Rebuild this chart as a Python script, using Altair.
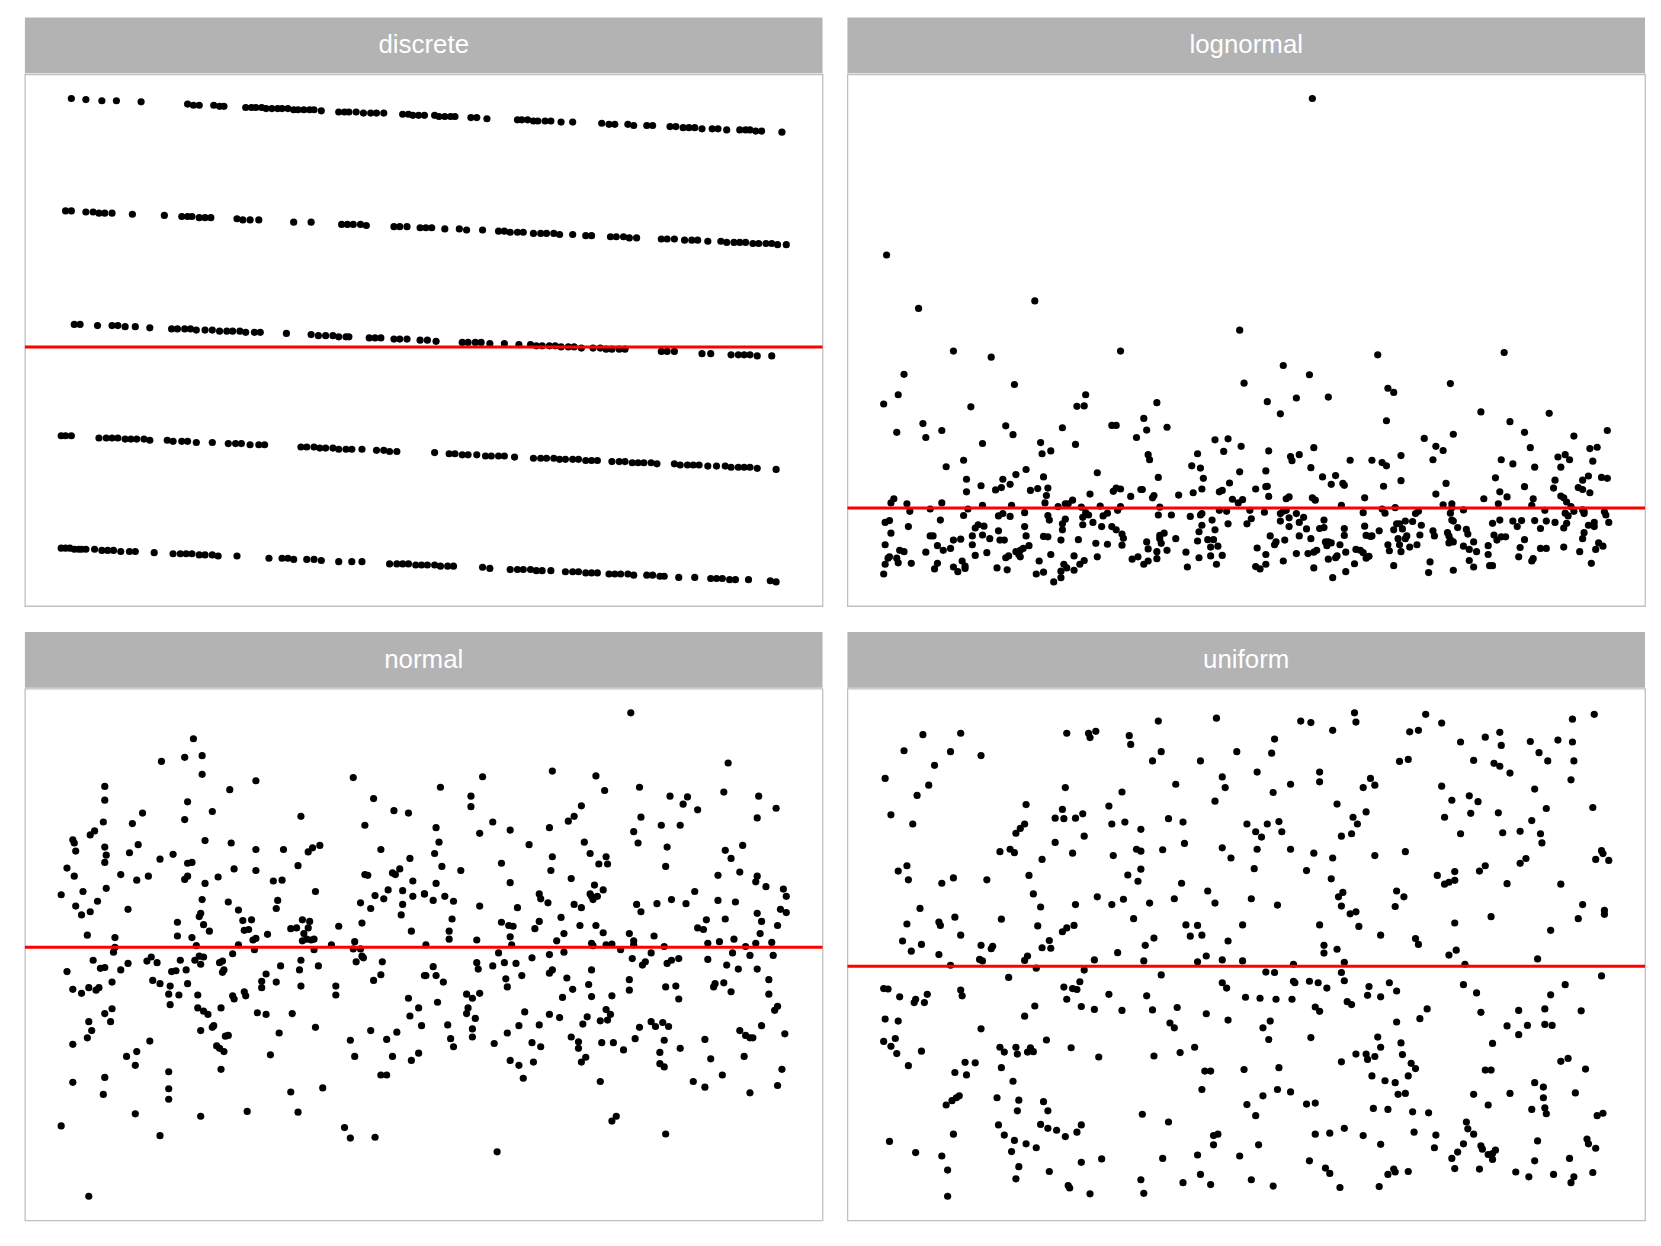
import altair as alt
import pandas as pd

PANEL_NAMES = ["discrete", "lognormal", "normal", "uniform"]
PANEL_MEANS = [2.79, 1.65, 0.0, 0.476]
X_RANGE = [1, 500]

discrete_level5 = [(8,5.00),(18,4.99),(29,4.98),(39,4.98),(56,4.97),(88,4.95),(92,4.94),(96,4.94),(106,4.94),(110,4.93),(113,4.93),(128,4.92),(132,4.92),(135,4.92),(139,4.92),(142,4.91),(146,4.91),(150,4.91),(153,4.91),(157,4.91),(161,4.90),(164,4.90),(168,4.90),(172,4.90),(175,4.90),(180,4.89),(192,4.88),(196,4.88),(199,4.88),(204,4.88),(209,4.87),(214,4.87),(218,4.87),(223,4.87),(236,4.86),(240,4.86),(243,4.85),(247,4.85),(251,4.85),(258,4.85),(261,4.84),(265,4.84),(269,4.84),(272,4.84),(283,4.83),(287,4.83),(294,4.82),(315,4.81),(318,4.81),(322,4.81),(326,4.80),(329,4.80),(334,4.80),(338,4.80),(345,4.79),(353,4.79),(373,4.78),(378,4.77),(382,4.77),(391,4.77),(395,4.76),(404,4.76),(408,4.76),(420,4.75),(424,4.75),(429,4.74),(433,4.74),(437,4.74),(442,4.73),(449,4.73),(453,4.73),(459,4.72),(468,4.72),(472,4.72),(475,4.72),(479,4.71),(483,4.71),(497,4.70)]

discrete_level4 = [(4,4.00),(8,4.00),(18,3.99),(23,3.99),(27,3.98),(31,3.98),(36,3.98),(50,3.97),(72,3.96),(84,3.95),(88,3.95),(91,3.95),(96,3.94),(100,3.94),(104,3.94),(122,3.93),(126,3.92),(131,3.92),(137,3.92),(161,3.90),(173,3.90),(194,3.88),(198,3.88),(202,3.88),(207,3.88),(211,3.87),(230,3.86),(234,3.86),(239,3.86),(248,3.85),(252,3.85),(256,3.85),(265,3.84),(275,3.84),(280,3.83),(291,3.83),(302,3.82),(306,3.82),(310,3.81),(315,3.81),(319,3.81),(326,3.80),(331,3.80),(335,3.80),(340,3.80),(344,3.79),(353,3.79),(362,3.78),(366,3.78),(379,3.77),(383,3.77),(388,3.77),(392,3.76),(397,3.76),(414,3.75),(418,3.75),(423,3.75),(430,3.74),(435,3.74),(439,3.74),(446,3.73),(455,3.73),(459,3.72),(464,3.72),(468,3.72),(472,3.72),(477,3.71),(481,3.71),(486,3.71),(490,3.71),(494,3.70),(500,3.70)]

discrete_level3 = [(10,2.99),(14,2.99),(26,2.98),(36,2.98),(40,2.98),(45,2.97),(52,2.97),(62,2.96),(77,2.95),(81,2.95),(86,2.95),(90,2.95),(94,2.94),(100,2.94),(105,2.94),(110,2.93),(115,2.93),(119,2.93),(124,2.93),(128,2.92),(134,2.92),(138,2.92),(156,2.91),(173,2.90),(178,2.89),(183,2.89),(188,2.89),(192,2.88),(197,2.88),(199,2.88),(213,2.87),(217,2.87),(221,2.87),(230,2.86),(234,2.86),(239,2.86),(248,2.85),(253,2.85),(259,2.84),(277,2.83),(281,2.83),(286,2.83),(290,2.83),(296,2.82),(306,2.82),(316,2.81),(324,2.81),(328,2.80),(332,2.80),(337,2.80),(341,2.80),(345,2.79),(350,2.79),(354,2.79),(359,2.78),(367,2.78),(372,2.78),(376,2.77),(380,2.77),(385,2.77),(389,2.77),(414,2.75),(418,2.75),(423,2.75),(442,2.73),(448,2.73),(462,2.72),(467,2.72),(471,2.72),(475,2.72),(480,2.71),(490,2.71)]

discrete_level2 = [(1,2.00),(4,2.00),(8,2.00),(27,1.98),(32,1.98),(36,1.98),(40,1.98),(45,1.97),(49,1.97),(53,1.97),(58,1.97),(62,1.96),(74,1.96),(78,1.95),(84,1.95),(88,1.95),(94,1.94),(105,1.94),(116,1.93),(121,1.93),(125,1.93),(131,1.92),(137,1.92),(141,1.92),(166,1.90),(170,1.90),(175,1.90),(179,1.89),(183,1.89),(188,1.89),(192,1.88),(197,1.88),(201,1.88),(208,1.88),(218,1.87),(223,1.87),(227,1.86),(232,1.86),(258,1.85),(268,1.84),(272,1.84),(277,1.83),(281,1.83),(287,1.83),(293,1.82),(297,1.82),(302,1.82),(306,1.82),(313,1.81),(326,1.80),(331,1.80),(335,1.80),(340,1.80),(344,1.79),(348,1.79),(353,1.79),(357,1.79),(362,1.78),(366,1.78),(370,1.78),(380,1.77),(385,1.77),(389,1.77),(394,1.76),(398,1.76),(402,1.76),(407,1.76),(411,1.75),(423,1.75),(427,1.74),(432,1.74),(436,1.74),(440,1.74),(446,1.73),(452,1.73),(458,1.73),(462,1.72),(467,1.72),(471,1.72),(475,1.72),(480,1.71),(493,1.70)]

discrete_level1 = [(1,1.00),(4,1.00),(7,1.00),(10,0.99),(13,0.99),(15,0.99),(18,0.99),(24,0.99),(29,0.98),(33,0.98),(37,0.98),(42,0.97),(48,0.97),(52,0.97),(65,0.96),(78,0.95),(83,0.95),(87,0.95),(91,0.95),(96,0.94),(100,0.94),(105,0.94),(109,0.93),(122,0.93),(144,0.91),(153,0.91),(157,0.91),(161,0.90),(170,0.90),(175,0.90),(180,0.89),(192,0.88),(201,0.88),(208,0.88),(227,0.86),(232,0.86),(236,0.86),(240,0.86),(245,0.85),(249,0.85),(253,0.85),(258,0.85),(262,0.84),(267,0.84),(271,0.84),(291,0.83),(296,0.82),(310,0.81),(315,0.81),(319,0.81),(324,0.81),(328,0.80),(332,0.80),(338,0.80),(348,0.79),(353,0.79),(357,0.79),(362,0.78),(366,0.78),(370,0.78),(378,0.77),(382,0.77),(386,0.77),(391,0.77),(395,0.76),(404,0.76),(408,0.76),(413,0.75),(416,0.75),(426,0.74),(437,0.74),(448,0.73),(452,0.73),(456,0.73),(461,0.72),(465,0.72),(474,0.72),(489,0.71),(493,0.70)]

lognormal_first_half = [(3,7.10),(25,5.95),(15,4.53),(11,4.09),(1,3.89),(10,3.28),(28,3.47),(30,3.17),(6,1.76),(8,1.85),(2,1.34),(5,1.38),(6,1.11),(2,0.86),(4,0.57),(5,0.60),(2,0.44),(1,0.23),(10,0.57),(11,0.47),(12,0.74),(15,0.71),(17,1.74),(19,1.58),(18,1.25),(20,0.46),(33,1.63),(30,0.70),(33,1.05),(35,1.05),(36,0.34),(38,0.46),(40,1.39),(41,1.76),(41,3.32),(44,2.54),(38,0.84),(42,0.74),(47,0.78),(49,0.96),(49,5.03),(49,0.38),(52,0.28),(54,0.98),(55,0.51),(57,0.40),(57,0.35),(56,1.49),(56,2.68),(58,2.27),(58,2.00),(59,1.63),(61,3.83),(62,1.05),(62,0.86),(64,0.63),(64,1.22),(66,1.29),(70,1.26),(68,2.13),(69,1.07),(69,1.71),(69,3.04),(72,0.69),(74,0.99),(75,4.90),(78,2.04),(82,2.09),(83,2.27),(85,3.42),(88,2.16),(80,1.48),(83,1.53),(80,1.16),(81,0.96),(84,0.96),(79,0.36),(86,0.32),(85,0.58),(87,0.62),(88,1.47),(89,1.71),(90,3.23),(91,4.31),(92,2.37),(92,0.71),(94,0.65),(95,0.74),(95,0.60),(97,0.78),(98,1.55),(98,1.25),(99,1.05),(99,2.48),(101,0.84),(102,2.03),(105,6.11),(106,0.23),(107,2.07),(108,0.51),(109,3.06),(110,2.82),(111,2.32),(111,0.27),(111,1.04),(114,1.03),(112,1.76),(113,1.92),(114,2.08),(114,1.49),(115,1.39),(116,2.88),(116,0.65),(118,0.06),(121,1.68),(123,0.15),(123,0.29),(124,3.38),(124,1.31),(124,1.18),(123,0.96),(125,0.44),(127,0.36),(126,1.41),(126,1.74),(128,1.74),(131,1.82),(132,0.31),(132,0.62),(133,3.02),(134,3.84),(135,0.97),(137,1.67),(136,0.44),(139,0.52),(138,1.29),(138,1.45),(139,3.85),(140,4.09),(140,1.55),(142,1.50),(143,1.95),(145,1.34),(147,0.89),(148,0.60),(148,2.41),(150,1.69),(151,1.25),(152,1.48),(155,1.54),(155,0.87),(158,3.43),(161,3.43),(159,2.01),(161,2.08),(164,2.06),(158,1.25),(161,1.18),(162,1.60),(164,1.68),(164,5.03),(165,1.09),(166,1.00),(165,0.85),(171,1.90),(172,0.55),(176,0.60),(175,3.17),(178,2.05),(179,2.05),(180,3.58),(182,3.33),(180,0.44),(183,0.51),(182,0.92),(183,0.77),(183,2.80),(184,2.69),(186,1.87),(187,1.92),(189,3.92),(190,2.31),(191,1.67),(190,1.50),(191,1.06),(192,0.89),(189,0.56),(189,0.71),(191,0.99),(194,1.11),(196,3.39),(196,0.74),(199,1.50),(202,0.99),(204,1.93),(209,0.70),(210,0.38),(212,1.47),(213,2.56),(214,1.98),(217,2.82),(219,2.51),(219,1.50),(220,1.53),(220,2.06),(221,2.29),(220,1.28),(218,1.14),(217,0.94),(218,0.58),(224,0.97),(228,0.97),(226,0.81),(231,0.83),(227,1.39),(229,1.18),(229,3.12),(226,0.62),(230,0.44),(232,1.60),(232,2.00),(234,2.03),(235,2.87),(234,0.63),(237,1.58),(238,3.14),(238,1.31),(239,2.19),(241,1.84),(246,5.48),(246,2.43),(247,2.98),(245,1.76),(248,1.83),(249,4.34),(251,1.31)]

lognormal_second_half = [(296,10.47),(276,4.72),(294,4.52),(341,4.95),(428,5.00),(265,3.94),(285,4.02),(307,4.04),(274,3.68),(348,4.23),(352,4.14),(391,4.33),(347,3.53),(412,3.72),(459,3.69),(432,3.51),(442,3.28),(393,3.24),(373,3.15),(381,2.98),(386,2.89),(476,3.20),(499,3.32),(266,2.88),(281,2.76),(282,2.67),(287,2.80),(297,2.95),(322,2.68),(337,2.68),(344,2.63),(347,2.56),(357,2.78),(379,2.69),(426,2.69),(434,2.60),(446,2.95),(449,2.53),(465,2.75),(470,2.80),(473,2.69),(467,2.53),(487,2.93),(492,2.96),(489,2.66),(264,2.45),(295,2.52),(303,2.32),(312,2.35),(309,2.16),(317,2.18),(318,2.14),(357,2.24),(345,2.12),(388,2.18),(422,2.30),(442,2.11),(463,2.25),(462,2.08),(482,2.25),(486,2.34),(479,2.09),(482,2.05),(487,1.98),(495,2.31),(499,2.29),(257,2.06),(264,2.11),(265,2.12),(266,1.90),(278,1.85),(280,1.89),(296,1.87),(298,1.82),(332,1.87),(381,1.95),(414,1.85),(425,2.00),(430,1.89),(448,1.85),(467,1.91),(469,1.87),(253,1.60),(254,1.42),(263,1.56),(274,1.53),(276,1.58),(278,1.60),(274,1.37),(280,1.44),(285,1.53),(287,1.34),(290,1.45),(280,1.25),(292,1.20),(304,1.39),(304,1.23),(301,1.21),(316,1.71),(318,1.21),(318,1.06),(331,1.55),(332,1.26),(344,1.63),(346,1.54),(353,1.66),(333,1.06),(336,1.04),(337,1.05),(342,1.16),(352,1.18),(354,1.31),(356,1.31),(358,1.20),(360,1.37),(365,1.36),(367,1.53),(369,1.58),(371,1.28),(370,1.07),(361,1.05),(360,0.99),(355,0.99),(379,1.16),(380,1.05),(386,1.72),(392,1.74),(392,1.66),(391,1.54),(392,1.39),(393,1.37),(396,1.23),(400,1.61),(389,1.12),(390,1.05),(391,0.97),(393,0.92),(390,0.90),(402,1.19),(403,1.09),(407,0.92),(400,0.83),(404,0.76),(409,0.71),(417,0.84),(420,1.32),(425,1.39),(424,1.74),(421,1.07),(423,0.96),(426,1.03),(429,1.03),(434,1.37),(437,1.25),(440,1.38),(442,0.97),(439,0.80),(438,0.60),(447,0.51),(448,0.56),(447,1.71),(449,1.38),(453,1.21),(453,0.78),(457,0.78),(456,1.60),(457,1.37),(463,1.34),(469,1.22),(470,1.54),(472,1.48),(471,1.32),(471,1.78),(474,1.68),(476,1.58),(482,1.61),(483,1.53),(483,1.58),(486,1.28),(490,1.34),(490,1.25),(483,1.12),(482,0.99),(493,0.90),(496,0.83),(491,0.76),(497,1.57),(498,1.50),(500,1.34),(469,0.81),(480,0.71),(488,0.46),(258,0.79),(264,0.65),(267,1.05),(270,0.86),(271,0.92),(277,0.96),(257,0.39),(260,0.34),(264,0.44),(276,0.51),(285,0.67),(287,1.05),(295,0.99),(293,0.67),(297,0.70),(299,0.74),(297,0.36),(305,0.92),(307,0.92),(309,0.90),(306,0.84),(307,0.55),(312,0.58),(313,0.62),(310,0.15),(315,0.86),(319,0.70),(319,0.28),(325,0.45),(326,0.76),(329,0.74),(331,0.69),(333,0.57),(335,0.61),(348,0.86),(349,0.73),(356,0.86),(357,0.71),(363,0.81),(368,0.86),(352,0.41),(377,0.49),(376,0.26),(393,0.31),(404,0.52),(407,0.38),(417,0.65),(418,0.41),(420,0.41)]

normal_first_half = [(1,0.65),(5,0.98),(9,1.33),(10,1.29),(11,1.19),(10,0.88),(11,0.51),(15,0.40),(16,0.69),(21,1.39),(24,1.44),(21,0.44),(26,0.57),(30,1.55),(31,1.99),(31,1.82),(31,1.24),(32,1.14),(31,1.05),(32,0.73),(19,0.15),(1,-2.21),(5,-0.30),(9,-0.52),(9,-1.20),(9,-1.67),(15,-0.57),(20,-3.08),(20,-0.50),(19,-1.12),(20,-0.92),(22,-1.03),(23,-0.16),(25,-0.53),(27,-0.50),(28,-0.26),(31,-0.25),(31,-0.82),(35,-0.92),(36,-0.76),(36,-0.43),(31,-1.61),(30,-1.82),(37,-0.06),(38,0.12),(38,0.00),(42,-0.28),(42,0.90),(47,0.47),(47,-0.20),(48,1.17),(50,1.53),(53,0.83),(54,1.27),(57,1.66),(46,-1.35),(53,-1.29),(52,-1.46),(52,-2.06),(60,-0.17),(63,-0.12),(61,0.88),(62,-1.16),(64,-0.41),(67,-0.19),(69,-0.45),(69,-2.33),(69,1.09),(70,2.30),(75,-1.54),(75,-1.75),(75,-1.88),(76,-0.48),(75,-0.58),(76,-0.71),(77,-0.30),(80,-0.29),(78,1.15),(81,0.31),(81,0.14),(82,-0.59),(83,-0.16),(86,2.35),(86,1.58),(86,0.84),(88,0.88),(88,1.80),(88,1.04),(91,1.05),(87,-0.28),(88,-0.45),(91,0.12),(92,2.58),(94,0.02),(93,-0.16),(95,-0.59),(95,-0.75),(96,-0.11),(99,-0.12),(97,-0.21),(96,0.38),(97,0.42),(98,0.59),(99,0.28),(100,1.32),(100,0.79),(98,2.37),(98,2.14),(99,-0.79),(102,-0.83),(97,-1.03),(97,-2.09),(103,0.20),(105,1.68),(105,-0.99),(106,-0.97),(109,0.87),(110,-0.19),(112,-0.17),(112,-0.31),(113,-0.28),(111,-0.75),(108,-1.22),(110,-1.25),(113,-1.29),(114,-1.10),(116,-1.09),(111,-1.51),(116,0.56),(117,1.95),(118,1.29),(119,-0.08),(120,0.97),(119,-0.60),(120,-0.64),(123,0.46),(123,0.03),(126,0.33),(127,0.21),(127,-0.55),(128,-0.60),(129,-2.03),(130,0.22),(132,0.34),(133,0.09),(135,0.11),(134,-0.03),(135,2.06),(135,1.21),(135,0.95),(136,-0.81),(139,-0.50),(139,-0.42),(142,-0.83),(142,-0.33),(143,0.16),(145,-1.33),(147,0.82),(149,0.48),(150,0.58),(149,-0.43),(151,-1.06),(152,-0.23),(153,0.83),(154,1.21),(159,0.23),(163,0.24),(159,-1.79),(160,-0.82),(164,-2.04),(164,1.01),(165,-0.28),(166,1.62),(166,-0.16),(166,-0.48),(167,0.34),(168,0.17),(167,0.08),(170,0.10),(171,1.18),(174,1.23),(172,0.32),(171,0.24),(173,0.09),(175,-0.03),(175,0.10),(176,0.69),(176,-0.99),(178,-0.23),(179,1.26),(181,-1.74),(187,0.03),(190,-0.48),(190,-0.59),(192,0.26),(196,-2.23),(200,-1.15),(200,-2.36),(202,2.10),(202,-0.02),(203,0.07),(204,-0.18),(203,-1.35),(207,-0.02),(208,-0.11),(209,-0.13),(207,0.55),(208,0.30),(210,1.51),(210,0.90),(212,0.89),(214,0.48),(216,1.84),(216,-0.41),(217,0.64),(214,-1.03),(217,-2.35),(221,1.21),(221,-0.34),(223,0.60),(222,-0.18),(225,-1.14),(221,-1.58),(225,-1.58),(226,0.71),(229,-1.35),(230,1.69),(229,0.92),(231,0.90),(234,0.97),(232,-1.05),(235,0.40),(236,0.53),(236,0.70),(240,1.66),(241,1.10),(242,0.20),(243,0.82),(243,0.63),(240,-0.63),(241,-0.85),(247,-0.75),(249,-0.97),(242,-1.40),(247,-1.31),(251,0.66),(251,-0.35)]

normal_second_half = [(393,2.90),(460,2.28),(339,2.18),(369,2.12),(291,2.11),(262,1.98),(399,1.98),(375,1.94),(283,1.87),(283,1.74),(420,1.87),(432,1.86),(429,1.77),(457,1.92),(481,1.87),(493,1.72),(439,1.70),(359,1.75),(354,1.62),(350,1.56),(400,1.61),(298,1.55),(259,1.48),(310,1.45),(337,1.48),(395,1.43),(414,1.51),(427,1.51),(480,1.60),(261,1.30),(289,1.41),(323,1.27),(361,1.30),(398,1.29),(418,1.24),(470,1.26),(258,1.16),(339,1.12),(365,1.16),(376,1.12),(371,1.03),(377,1.03),(458,1.20),(462,1.10),(263,1.00),(276,0.95),(304,1.04),(338,0.95),(417,1.00),(352,0.85),(453,0.89),(468,0.93),(480,0.88),(479,0.81),(486,0.75),(259,0.79),(310,0.80),(368,0.77),(374,0.71),(365,0.66),(366,0.63),(367,0.59),(370,0.63),(251,0.66),(257,0.58),(265,0.63),(271,0.57),(289,0.51),(315,0.49),(330,0.66),(331,0.60),(336,0.55),(354,0.53),(359,0.49),(397,0.53),(400,0.44),(411,0.54),(421,0.59),(431,0.54),(437,0.69),(453,0.58),(465,0.56),(498,0.72),(500,0.63),(270,0.35),(304,0.31),(309,0.27),(312,0.26),(330,0.32),(327,0.23),(345,0.37),(358,0.27),(369,0.27),(374,0.18),(392,0.17),(409,0.14),(439,0.24),(443,0.22),(445,0.34),(458,0.35),(480,0.42),(483,0.32),(482,0.17),(496,0.47),(500,0.43),(494,0.27),(268,0.20),(268,0.10),(287,0.09),(310,0.13),(311,0.03),(342,0.08),(347,0.17),(366,0.05),(367,0.02),(376,0.03),(380,0.04),(395,0.08),(395,0.03),(416,0.01),(446,0.05),(454,0.07),(464,0.10),(472,0.01),(479,0.05),(490,0.06),(252,0.03),(302,-0.07),(287,-0.19),(288,-0.27),(306,-0.19),(314,-0.20),(298,-0.23),(325,-0.13),(337,-0.09),(347,-0.06),(386,-0.03),(394,-0.14),(401,-0.22),(403,-0.18),(407,-0.07),(418,-0.20),(421,-0.16),(426,-0.14),(446,-0.15),(463,-0.07),(475,-0.10),(491,-0.10),(257,-0.24),(252,-0.35),(259,-0.35),(264,-0.43),(307,-0.39),(308,-0.49),(318,-0.35),(337,-0.32),(339,-0.28),(349,-0.38),(366,-0.28),(364,-0.46),(366,-0.61),(353,-0.52),(346,-0.62),(380,-0.60),(392,-0.40),(392,-0.53),(417,-0.49),(424,-0.48),(426,-0.64),(450,-0.49),(451,-0.45),(457,-0.44),(462,-0.55),(459,-0.22),(467,-0.27),(480,-0.27),(488,-0.40),(488,-0.58),(260,-0.68),(280,-0.58),(284,-0.63),(289,-0.57),(281,-0.75),(280,-0.82),(286,-0.88),(284,-1.01),(284,-1.11),(267,-0.96),(269,-1.13),(271,-1.23),(299,-1.19),(308,-1.06),(316,-0.97),(320,-0.80),(330,-0.96),(337,-0.83),(344,-0.87),(325,-1.18),(331,-1.23),(352,-1.11),(357,-1.17),(357,-1.25),(360,-0.95),(363,-0.86),(376,-0.77),(379,-0.83),(377,-0.90),(372,-0.91),(373,-1.18),(381,-1.18),(388,-1.27),(396,-1.13),(399,-0.99),(407,-0.92),(410,-0.98),(415,-0.93),(419,-0.98),(416,-1.15),(413,-1.30),(310,-1.40),(316,-1.46),(319,-1.62),(326,-1.42),(359,-1.42),(362,-1.36),(372,-1.66),(413,-1.44),(416,-1.48),(427,-1.25),(444,-1.14),(448,-1.38),(436,-1.66),(444,-1.73),(456,-1.58),(468,-1.03),(472,-1.09),(475,-1.12),(477,-1.12),(471,-1.35),(483,-0.97),(492,-0.78),(494,-0.73),(499,-1.07),(497,-1.51),(494,-1.71),(475,-1.80),(380,-2.15),(383,-2.09),(417,-2.31),(301,-2.53)]

uniform_first_half = [(2,0.863),(6,0.788),(15,0.920),(28,0.953),(36,0.890),(32,0.849),(24,0.828),(21,0.769),(47,0.918),(54,0.956),(68,0.910),(11,0.672),(17,0.683),(18,0.654),(41,0.647),(49,0.658),(72,0.654),(26,0.595),(17,0.563),(39,0.567),(40,0.560),(50,0.577),(54,0.540),(14,0.528),(27,0.521),(20,0.507),(39,0.500),(47,0.478),(68,0.519),(75,0.512),(76,0.517),(67,0.490),(69,0.487),(82,0.573),(81,0.712),(88,0.717),(91,0.710),(92,0.750),(95,0.760),(98,0.769),(99,0.809),(101,0.663),(104,0.625),(109,0.598),(110,0.696),(107,0.559),(110,0.514),(115,0.529),(116,0.513),(98,0.488),(100,0.497),(106,0.472),(87,0.453),(119,0.731),(119,0.781),(124,0.799),(125,0.780),(126,0.844),(127,0.956),(133,0.781),(138,0.790),(139,0.744),(131,0.709),(142,0.956),(143,0.947),(147,0.960),(124,0.547),(127,0.555),(132,0.560),(133,0.603),(148,0.619),(146,0.489),(139,0.468),(156,0.806),(158,0.769),(159,0.704),(158,0.603),(165,0.835),(167,0.773),(166,0.614),(162,0.504),(170,0.951),(171,0.933),(169,0.664),(173,0.574),(175,0.717),(178,0.713),(178,0.758),(178,0.676),(176,0.651),(184,0.606),(181,0.519),(187,0.534),(180,0.487),(190,0.981),(192,0.918),(186,0.899),(202,0.851),(197,0.780),(207,0.773),(193,0.716),(208,0.729),(206,0.647),(201,0.615),(209,0.561),(217,0.560),(212,0.538),(220,0.540),(217,0.485),(223,0.497),(219,0.899),(230,0.987),(234,0.866),(236,0.844),(229,0.816),(234,0.720),(240,0.699),(224,0.631),(229,0.606),(238,0.528),(234,0.489),(244,0.918),(251,0.769),(248,0.561),(248,0.487),(1,0.430),(4,0.429),(12,0.413),(23,0.408),(22,0.401),(29,0.401),(31,0.418),(54,0.427),(55,0.415),(2,0.367),(11,0.363),(1,0.321),(9,0.327),(6,0.311),(10,0.296),(27,0.301),(18,0.271),(68,0.347),(57,0.278),(64,0.277),(50,0.257),(58,0.252),(44,0.190),(48,0.199),(51,0.205),(53,0.209),(49,0.130),(5,0.115),(23,0.092),(41,0.085),(45,0.056),(45,0.002),(81,0.309),(84,0.299),(92,0.309),(93,0.295),(100,0.299),(102,0.308),(104,0.300),(98,0.373),(105,0.394),(113,0.324),(82,0.267),(90,0.239),(79,0.205),(94,0.200),(93,0.178),(111,0.197),(114,0.178),(80,0.149),(84,0.128),(91,0.117),(89,0.094),(99,0.110),(106,0.102),(109,0.150),(114,0.142),(120,0.138),(126,0.125),(134,0.134),(137,0.149),(94,0.063),(92,0.038),(115,0.053),(128,0.024),(129,0.019),(137,0.072),(143,0.007),(151,0.079),(125,0.433),(127,0.408),(131,0.430),(134,0.428),(136,0.444),(137,0.393),(146,0.387),(130,0.308),(149,0.289),(156,0.418),(165,0.385),(182,0.415),(186,0.386),(192,0.458),(203,0.391),(198,0.359),(201,0.349),(187,0.291),(205,0.298),(215,0.309),(223,0.378),(234,0.442),(237,0.431),(238,0.365),(250,0.412),(222,0.260),(226,0.260),(249,0.263),(220,0.222),(179,0.171),(197,0.155),(228,0.127),(231,0.130),(228,0.108),(193,0.080),(217,0.087),(246,0.085),(178,0.036),(180,0.008),(207,0.030),(219,0.047),(226,0.026)]

uniform_second_half = [(325,0.998),(326,0.979),(288,0.981),(295,0.978),(310,0.962),(270,0.944),(268,0.915),(258,0.876),(281,0.851),(301,0.876),(301,0.856),(269,0.834),(313,0.810),(331,0.844),(336,0.863),(339,0.849),(333,0.794),(324,0.783),(327,0.769),(323,0.749),(316,0.744),(265,0.769),(273,0.774),(275,0.753),(257,0.753),(261,0.742),(258,0.717),(281,0.717),(297,0.709),(310,0.699),(292,0.673),(256,0.677),(309,0.656),(254,0.615),(272,0.602),(314,0.619),(317,0.628),(316,0.600),(322,0.584),(326,0.588),(328,0.558),(301,0.561),(304,0.519),(304,0.503),(313,0.511),(318,0.484),(283,0.480),(343,0.540),(339,0.704),(360,0.712),(356,0.898),(362,0.902),(363,0.959),(369,0.962),(374,0.995),(385,0.977),(398,0.938),(407,0.900),(415,0.948),(425,0.958),(426,0.931),(421,0.894),(425,0.888),(432,0.874),(446,0.939),(452,0.916),(458,0.899),(465,0.942),(475,0.985),(475,0.938),(476,0.899),(474,0.860),(490,0.995),(489,0.803),(385,0.847),(392,0.818),(387,0.783),(398,0.749),(404,0.827),(410,0.815),(405,0.791),(424,0.792),(427,0.751),(439,0.754),(447,0.776),(449,0.841),(457,0.801),(453,0.749),(454,0.730),(495,0.714),(496,0.708),(491,0.696),(500,0.694),(439,0.688),(443,0.698),(415,0.683),(411,0.672),(430,0.646),(467,0.645),(382,0.663),(387,0.645),(390,0.649),(394,0.671),(394,0.653),(354,0.631),(359,0.619),(353,0.599),(367,0.533),(369,0.521),(394,0.565),(419,0.578),(390,0.499),(395,0.509),(401,0.480),(460,0.550),(451,0.491),(479,0.574),(482,0.603),(497,0.591),(497,0.583),(264,0.464),(270,0.463),(283,0.445),(284,0.442),(294,0.445),(300,0.442),(306,0.431),(316,0.463),(318,0.446),(260,0.410),(271,0.408),(282,0.408),(298,0.392),(301,0.383),(320,0.403),(323,0.397),(335,0.434),(334,0.416),(343,0.413),(349,0.442),(354,0.425),(262,0.349),(267,0.363),(266,0.325),(295,0.329),(316,0.279),(326,0.295),(333,0.295),(334,0.284),(339,0.290),(341,0.330),(343,0.309),(354,0.361),(357,0.318),(358,0.294),(337,0.250),(346,0.240),(353,0.236),(364,0.276),(367,0.265),(362,0.250),(355,0.212),(360,0.214),(370,0.368),(375,0.388),(400,0.438),(409,0.421),(412,0.381),(420,0.317),(430,0.353),(438,0.385),(438,0.335),(444,0.354),(456,0.388),(456,0.356),(461,0.354),(460,0.417),(470,0.438),(481,0.384),(495,0.456),(273,0.267),(272,0.222),(281,0.217),(262,0.209),(251,0.191),(257,0.168),(292,0.192),(298,0.194),(338,0.183),(348,0.181),(365,0.176),(376,0.174),(407,0.212),(415,0.262),(419,0.262),(417,0.190),(432,0.214),(449,0.236),(455,0.227),(455,0.205),(456,0.184),(457,0.172),(447,0.181),(467,0.280),(472,0.286),(484,0.264),(477,0.215),(492,0.168),(496,0.173),(259,0.108),(298,0.130),(308,0.132),(318,0.142),(331,0.127),(343,0.109),(366,0.134),(381,0.128),(380,0.102),(402,0.155),(403,0.141),(407,0.130),(400,0.110),(412,0.106),(413,0.099),(417,0.088),(420,0.090),(422,0.097),(420,0.078),(396,0.093),(392,0.080),(394,0.059),(411,0.058),(451,0.116),(449,0.075),(473,0.080),(485,0.120),(486,0.110),(491,0.101),(294,0.075),(305,0.060),(308,0.049),(254,0.036),(269,0.023),(315,0.020),(342,0.022),(348,0.047),(352,0.058),(353,0.052),(362,0.053),(436,0.052),(445,0.042),(462,0.047),(476,0.042),(474,0.030),(489,0.051)]

PANEL_POINTS = [
    discrete_level5 + discrete_level4 + discrete_level3 + discrete_level2 + discrete_level1,
    lognormal_first_half + lognormal_second_half,
    normal_first_half + normal_second_half,
    uniform_first_half + uniform_second_half,
]

W = 801
H = 534
STRIP_H = 56
STRIP_GREY = "#b3b3b3"
BORDER_GREY = "#c0c0c0"


def expanded(lo, hi, frac=0.05):
    pad = (hi - lo) * frac
    return [lo - pad, hi + pad]


def panel(name, points, mean_value):
    df = pd.DataFrame(points, columns=["index", "value"])
    x_scale = alt.Scale(domain=expanded(*X_RANGE), nice=False, zero=False)
    y_scale = alt.Scale(domain=expanded(df["value"].min(), df["value"].max()),
                        nice=False, zero=False)
    dots = alt.Chart(df).mark_circle(size=52, color="black", opacity=1).encode(
        x=alt.X("index:Q", scale=x_scale, axis=None),
        y=alt.Y("value:Q", scale=y_scale, axis=None),
    )
    mean_line = alt.Chart(pd.DataFrame({"mean": [mean_value]})).mark_rule(
        color="#ff0000", strokeWidth=3
    ).encode(y=alt.Y("mean:Q", scale=y_scale, axis=None))
    plot = alt.layer(dots, mean_line).properties(width=W, height=H)

    strip_df = pd.DataFrame({"label": [name]})
    strip_bg = alt.Chart(strip_df).mark_rect(color=STRIP_GREY).encode(
        x=alt.value(0), x2=alt.value(W), y=alt.value(0), y2=alt.value(STRIP_H)
    )
    strip_text = alt.Chart(strip_df).mark_text(
        color="white", fontSize=26, font="Liberation Sans",
        align="center", baseline="middle"
    ).encode(x=alt.value(W / 2), y=alt.value(STRIP_H / 2), text="label:N")
    strip = alt.layer(strip_bg, strip_text).properties(
        width=W, height=STRIP_H, view=alt.ViewBackground(strokeOpacity=0)
    )
    return alt.vconcat(strip, plot, spacing=0)


panels = [panel(n, p, m) for n, p, m in zip(PANEL_NAMES, PANEL_POINTS, PANEL_MEANS)]

chart = alt.vconcat(
    alt.hconcat(panels[0], panels[1], spacing=19),
    alt.hconcat(panels[2], panels[3], spacing=19),
    spacing=25,
).properties(
    padding={"left": 14, "top": 7, "right": 5, "bottom": 5},
    background="white",
).configure_view(stroke=BORDER_GREY, strokeWidth=1.3)

chart.save("out.html", embed_options={"renderer": "svg", "actions": False})
